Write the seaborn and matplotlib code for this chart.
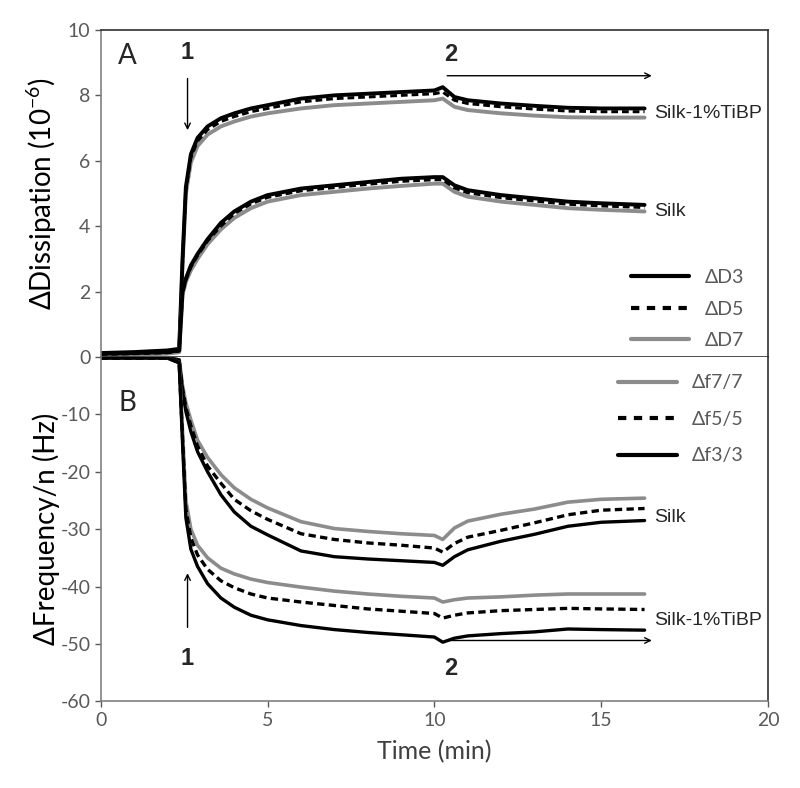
import numpy as np
import pandas as pd
import matplotlib
matplotlib.use("Agg")
from matplotlib import pyplot as plt
import seaborn as sns

sns.set_style("white")
plt.rcParams['font.family'] = ['Lato', 'DejaVu Sans']
plt.rcParams['mathtext.fontset'] = 'custom'
plt.rcParams['mathtext.rm'] = 'Lato'
plt.rcParams['mathtext.default'] = 'rm'
plt.rcParams['axes.unicode_minus'] = False

# time points (min)
time = [0, 1, 2, 2.35, 2.45, 2.55, 2.7, 2.9, 3.2, 3.6, 4.0, 4.5, 5, 6, 7, 8, 9, 10,
        10.25, 10.6, 11, 12, 13, 14, 15, 16.3]

# dissipation (1e-6)
d3_tibp = [0.12, 0.15, 0.2, 0.25, 3.0, 5.2, 6.2, 6.7, 7.05, 7.3, 7.45, 7.6, 7.7, 7.9, 8.0, 8.05, 8.1, 8.15,
           8.25, 7.95, 7.85, 7.75, 7.68, 7.62, 7.6, 7.6]
d5_tibp = [0.1, 0.13, 0.18, 0.22, 2.9, 5.1, 6.1, 6.6, 6.95, 7.2, 7.35, 7.5, 7.6, 7.8, 7.9, 7.95, 8.0, 8.05,
           8.1, 7.85, 7.75, 7.65, 7.58, 7.52, 7.5, 7.5]
d7_tibp = [0.05, 0.08, 0.12, 0.15, 2.8, 5.0, 5.95, 6.45, 6.8, 7.05, 7.2, 7.35, 7.45, 7.6, 7.7, 7.75, 7.8, 7.85,
           7.9, 7.65, 7.55, 7.45, 7.38, 7.33, 7.32, 7.32]
d3_silk = [0.1, 0.12, 0.15, 0.2, 2.0, 2.4, 2.8, 3.15, 3.6, 4.1, 4.45, 4.75, 4.95, 5.15, 5.25, 5.35, 5.45, 5.5,
           5.5, 5.25, 5.1, 4.95, 4.85, 4.75, 4.7, 4.65]
d5_silk = [0.08, 0.1, 0.13, 0.18, 1.95, 2.35, 2.75, 3.1, 3.55, 4.0, 4.38, 4.68, 4.88, 5.08, 5.18, 5.28, 5.37, 5.42,
           5.42, 5.17, 5.02, 4.87, 4.77, 4.67, 4.62, 4.57]
d7_silk = [0.05, 0.07, 0.1, 0.15, 1.9, 2.3, 2.65, 3.0, 3.45, 3.9, 4.25, 4.55, 4.75, 4.95, 5.05, 5.15, 5.23, 5.3,
           5.3, 5.05, 4.9, 4.75, 4.65, 4.55, 4.5, 4.45]

# frequency shift / n (Hz)
f3_silk = [-0.2, -0.2, -0.2, -0.5, -6, -9.5, -13, -16.5, -20, -24, -27, -29.5, -31, -33.8, -34.8, -35.2, -35.5, -35.8,
           -36.3, -34.8, -33.6, -32.1, -30.9, -29.5, -28.8, -28.5]
f5_silk = [-0.2, -0.2, -0.2, -0.5, -5.5, -8.8, -12, -15.5, -19, -22, -24.8, -26.8, -28.3, -30.8, -31.8, -32.4, -32.8, -33.3,
           -34, -32.5, -31.4, -30.2, -28.9, -27.5, -26.7, -26.4]
f7_silk = [-0.2, -0.2, -0.2, -0.5, -5, -8, -11, -14.5, -17.5, -20.5, -22.8, -24.8, -26.3, -28.7, -29.9, -30.4, -30.8, -31.1,
           -31.8, -29.8, -28.6, -27.4, -26.5, -25.3, -24.8, -24.6]
f3_tibp = [-0.2, -0.2, -0.2, -1, -15, -28, -33.5, -36.5, -39.5, -42, -43.6, -45, -45.8, -46.8, -47.5, -48, -48.4, -48.8,
           -49.7, -49.0, -48.6, -48.2, -47.9, -47.4, -47.5, -47.6]
f5_tibp = [-0.2, -0.2, -0.2, -1, -14, -26.5, -31.5, -34.5, -37, -39, -40.2, -41.3, -42, -42.7, -43.3, -43.9, -44.3, -44.7,
           -45.5, -45, -44.6, -44.2, -44, -43.8, -43.9, -44]
f7_tibp = [-0.2, -0.2, -0.2, -1, -13, -25, -30, -32.8, -35, -36.8, -37.8, -38.7, -39.3, -40.1, -40.8, -41.3, -41.7, -42,
           -42.7, -42.3, -42, -41.8, -41.5, -41.3, -41.3, -41.3]

GRAY = '#8c8c8c'
TXT = '#595959'
DASH = (0, (2.2, 1.3))

fig = plt.figure(figsize=(8, 7.88), dpi=100)
ax_d = fig.add_axes([0.126, 0.547, 0.834, 0.415])
ax_f = fig.add_axes([0.126, 0.110, 0.834, 0.437])

# top panel: dissipation
for d3, d5, d7 in [(d3_tibp, d5_tibp, d7_tibp), (d3_silk, d5_silk, d7_silk)]:
    sns.lineplot(x=time, y=d7, ax=ax_d, color=GRAY, lw=2.8)
    sns.lineplot(x=time, y=d3, ax=ax_d, color='black', lw=2.8)
    sns.lineplot(x=time, y=d5, ax=ax_d, color='black', lw=2.2, linestyle=DASH)

# bottom panel: frequency
for f3, f5, f7 in [(f3_silk, f5_silk, f7_silk), (f3_tibp, f5_tibp, f7_tibp)]:
    sns.lineplot(x=time, y=f7, ax=ax_f, color=GRAY, lw=2.6)
    sns.lineplot(x=time, y=f5, ax=ax_f, color='black', lw=2.4, linestyle=DASH)
    sns.lineplot(x=time, y=f3, ax=ax_f, color='black', lw=2.4)

for ax in (ax_d, ax_f):
    ax.set_xlim(0, 20)
    ax.tick_params(axis='both', colors=TXT, labelsize=14, length=4, width=1,
                   direction='out', left=True, bottom=True)
    ax.spines['left'].set_color('#808080')
    ax.spines['bottom'].set_color('#808080')
    for s in ('top', 'right'):
        ax.spines[s].set_color('#303030')
    for s in ax.spines.values():
        s.set_linewidth(1.2)

ax_d.set_ylim(0, 10)
ax_d.set_yticks([0, 2, 4, 6, 8, 10])
ax_d.set_xticks([])
ax_d.spines['bottom'].set_color('#303030')
ax_d.set_ylabel(r'ΔDissipation (10$^{-6}$)', fontsize=20, color='black', labelpad=6)

ax_f.set_ylim(-60, 0)
ax_f.set_yticks([-60, -50, -40, -30, -20, -10])
ax_f.set_xticks([0, 5, 10, 15, 20])
ax_f.spines['top'].set_visible(False)
ax_f.set_ylabel('ΔFrequency/n (Hz)', fontsize=20, color='black', labelpad=0)
ax_f.set_xlabel('Time (min)', fontsize=18, color='#404040', labelpad=8)

# legends
h = [plt.Line2D([], [], color='black', lw=3),
     plt.Line2D([], [], color='black', lw=3, linestyle=(0, (2, 1.8))),
     plt.Line2D([], [], color=GRAY, lw=3)]
ax_d.legend(h, ['ΔD3', 'ΔD5', 'ΔD7'], loc='lower right', bbox_to_anchor=(0.99, -0.03),
            frameon=False, fontsize=14, handlelength=3.0, labelspacing=0.75, labelcolor=TXT)
ax_f.legend(h[::-1], ['Δf7/7', 'Δf5/5', 'Δf3/3'], loc='upper right', bbox_to_anchor=(0.99, 1.0),
            frameon=False, fontsize=14, handlelength=3.0, labelspacing=1.0, labelcolor=TXT)

# annotations
arial = 'Liberation Sans'
ax_d.text(0.8, 9.2, 'A', fontsize=20, ha='center', va='center')
ax_f.text(0.8, -8, 'B', fontsize=20, ha='center', va='center')
ax_d.text(2.6, 9.3, '1', fontsize=17, family=arial, weight='bold', ha='center', va='center')
ax_d.annotate('', xy=(2.6, 6.85), xytext=(2.6, 8.6),
              arrowprops=dict(arrowstyle='->', color='black', lw=1))
ax_d.text(10.5, 9.25, '2', fontsize=17, family=arial, weight='bold', ha='center', va='center')
ax_d.annotate('', xy=(16.6, 8.6), xytext=(10.3, 8.6),
              arrowprops=dict(arrowstyle='->', color='black', lw=1))
ax_f.text(2.6, -52.5, '1', fontsize=17, family=arial, weight='bold', ha='center', va='center')
ax_f.annotate('', xy=(2.6, -37.2), xytext=(2.6, -47.6),
              arrowprops=dict(arrowstyle='->', color='black', lw=1))
ax_f.text(10.5, -54.3, '2', fontsize=17, family=arial, weight='bold', ha='center', va='center')
ax_f.annotate('', xy=(16.6, -49.4), xytext=(10.3, -49.4),
              arrowprops=dict(arrowstyle='->', color='black', lw=1))

ax_d.text(16.6, 7.45, 'Silk-1%TiBP', fontsize=14, family=arial, va='center')
ax_d.text(16.6, 4.45, 'Silk', fontsize=14, family=arial, va='center')
ax_f.text(16.6, -28, 'Silk', fontsize=14, family=arial, va='center')
ax_f.text(16.6, -46, 'Silk-1%TiBP', fontsize=14, family=arial, va='center')

fig.savefig('out.png', dpi=100)
